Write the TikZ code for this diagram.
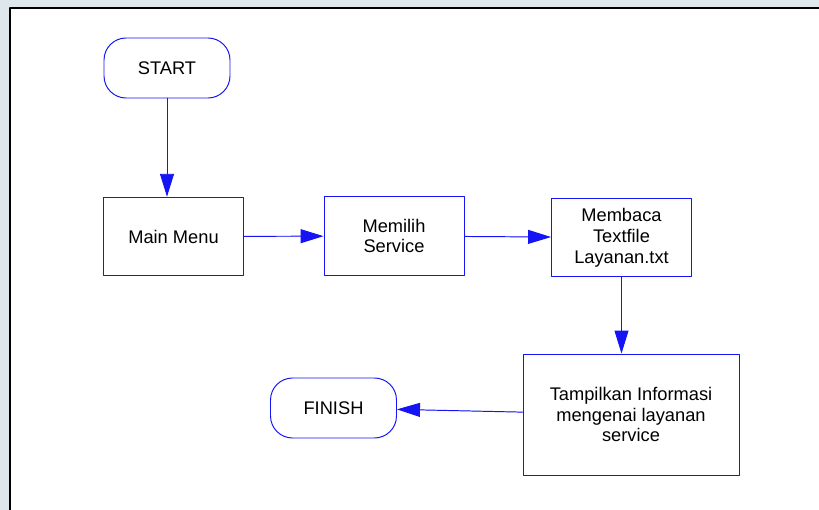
\documentclass[tikz,border=0pt]{standalone}
\usepackage{fontspec}
\setmainfont{Liberation Sans}
\usepackage{tikz}
\usetikzlibrary{arrows.meta,positioning}
\definecolor{flowblue}{RGB}{20,20,245}
\definecolor{shotgray}{RGB}{222,232,236}

\begin{document}
\begin{tikzpicture}[x=0.02cm,y=-0.02cm,line cap=round,line join=round,
  >={Triangle[length=0.46cm,width=0.28cm]},
  font=\fontsize{10.4}{11.9}\selectfont,
  terminal/.style={draw=flowblue,line width=0.55pt,rounded corners=0.44cm,
    minimum width=2.52cm,minimum height=1.2cm,align=center,inner sep=2pt},
  process/.style={draw=flowblue,line width=0.55pt,minimum width=2.8cm,
    minimum height=1.57cm,align=center,inner sep=2pt},
  flow/.style={->,draw=flowblue,fill=flowblue,line width=0.55pt}]
\useasboundingbox (0,0) rectangle (819,510);
% screenshot frame
\fill[shotgray] (0,0) rectangle (819,8);
\fill[shotgray] (0,0) rectangle (10,510);
\fill[white] (10,8) rectangle (819,510);
\draw[line width=1.6pt,black] (819,8) -- (10,8) -- (10,510);
% nodes
\node[terminal] (start) at (167,68) {START};
\node[process] (mainmenu) at (173.5,236.5) {Main Menu};
\node[process] (memilih) at (394,236) {Memilih\\Service};
\node[process] (membaca) at (621.5,237.5) {Membaca\\Textfile\\Layanan.txt};
\node[process,minimum width=4.32cm,minimum height=2.42cm] (tampil) at (631,414.5)
  {Tampilkan Informasi\\mengenai layanan\\service};
\node[terminal] (finish) at (333.5,408) {FINISH};
% connectors
\draw[flow] (start.south) -- (start.south |- mainmenu.north);
\draw[flow] (mainmenu) -- (memilih);
\draw[flow] (memilih) -- (membaca);
\draw[flow] (membaca.south) -- (membaca.south |- tampil.north);
\draw[flow] (tampil) -- (finish);
\end{tikzpicture}
\end{document}
